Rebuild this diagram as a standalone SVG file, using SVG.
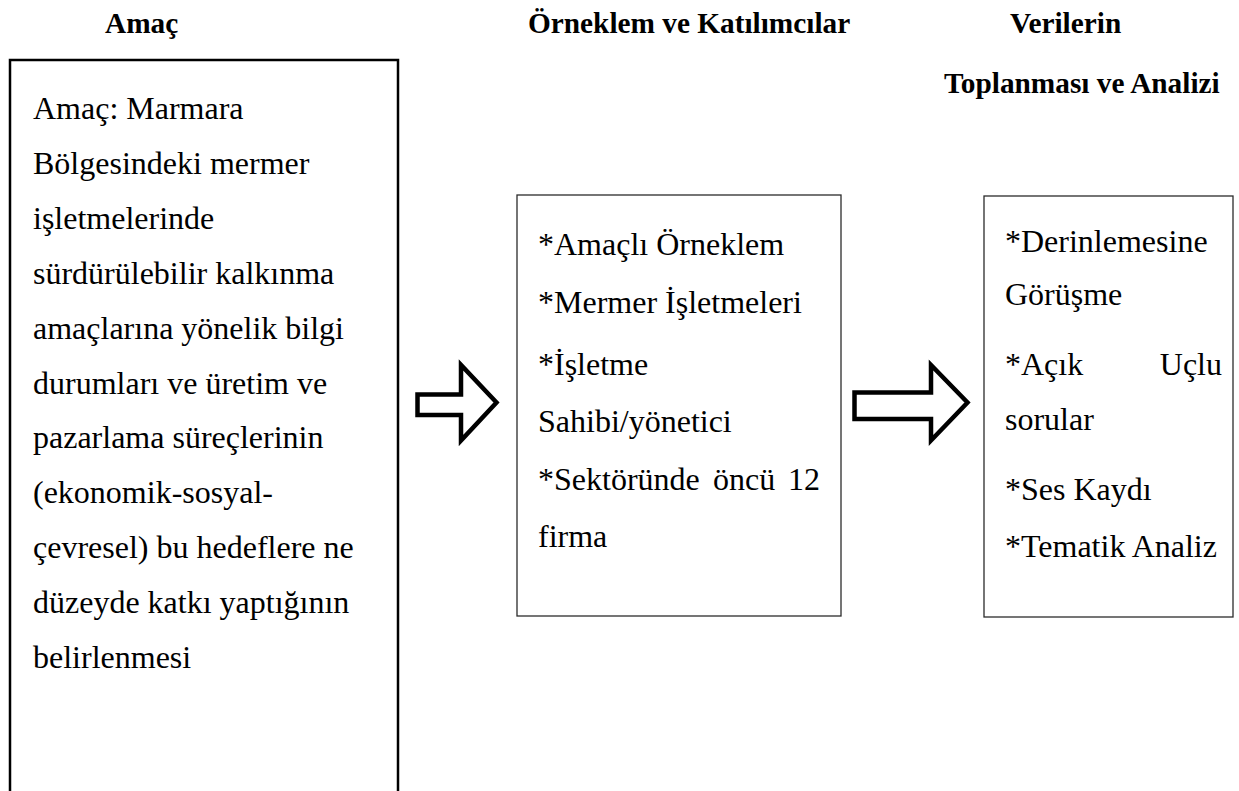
<svg xmlns="http://www.w3.org/2000/svg" width="1239" height="791" viewBox="0 0 1239 791">
<style>
.h{font-family:"Liberation Serif","Times New Roman",serif;font-weight:bold;font-size:29.3px;fill:#000}
.t{font-family:"Liberation Serif","Times New Roman",serif;font-size:32px;fill:#000}
.box{fill:#fff;stroke:#2b2b2b;stroke-width:1.3}
.box2{fill:#fff;stroke:#000;stroke-width:2.5}
.arr{fill:#fff;stroke:#000;stroke-width:4.5;stroke-linejoin:miter;stroke-miterlimit:10}
</style>
<rect width="1239" height="791" fill="#fff"/>
<g id="headers">
<text class="h" x="105" y="33">Amaç</text>
<text class="h" x="528" y="33">Örneklem ve Katılımcılar</text>
<text class="h" x="1010" y="33">Verilerin</text>
<text class="h" x="944" y="93">Toplanması ve Analizi</text>
</g>
<g id="node-amac">
<rect class="box2" x="10" y="60" width="388" height="780"/>
<text class="t" x="33" y="119">Amaç: Marmara</text>
<text class="t" x="33" y="173.9">Bölgesindeki mermer</text>
<text class="t" x="33" y="228.8">işletmelerinde</text>
<text class="t" x="33" y="283.7">sürdürülebilir kalkınma</text>
<text class="t" x="33" y="338.6">amaçlarına yönelik bilgi</text>
<text class="t" x="33" y="393.5">durumları ve üretim ve</text>
<text class="t" x="33" y="448.4">pazarlama süreçlerinin</text>
<text class="t" x="33" y="503.3">(ekonomik-sosyal-</text>
<text class="t" x="33" y="558.2">çevresel) bu hedeflere ne</text>
<text class="t" x="33" y="613.1">düzeyde katkı yaptığının</text>
<text class="t" x="33" y="668">belirlenmesi</text>
</g>
<g id="node-orneklem">
<rect class="box" x="517" y="195" width="324" height="421"/>
<text class="t" x="538" y="255">*Amaçlı Örneklem</text>
<text class="t" x="538" y="313">*Mermer İşletmeleri</text>
<text class="t" x="538" y="375">*İşletme</text>
<text class="t" x="538" y="432">Sahibi/yönetici</text>
<text class="t" x="538" y="490">*Sektöründe</text>
<text class="t" x="713" y="490">öncü</text>
<text class="t" x="820" y="490" text-anchor="end">12</text>
<text class="t" x="538" y="547">firma</text>
</g>
<g id="node-veriler">
<rect class="box" x="984" y="196" width="249" height="421"/>
<text class="t" x="1005" y="252">*Derinlemesine</text>
<text class="t" x="1005" y="305">Görüşme</text>
<text class="t" x="1005" y="375">*Açık</text>
<text class="t" x="1222" y="375" text-anchor="end">Uçlu</text>
<text class="t" x="1005" y="430">sorular</text>
<text class="t" x="1005" y="500">*Ses Kaydı</text>
<text class="t" x="1005" y="557">*Tematik Analiz</text>
</g>
<g id="connectors">
<path class="arr" d="M417.5 394.5 H461 V365 L496.5 402.5 L461 440.5 V415 H417.5 Z"/>
<path class="arr" d="M854.5 392.5 H931 V365 L967.5 402.5 L931 440.5 V419 H854.5 Z"/>
</g>
</svg>
